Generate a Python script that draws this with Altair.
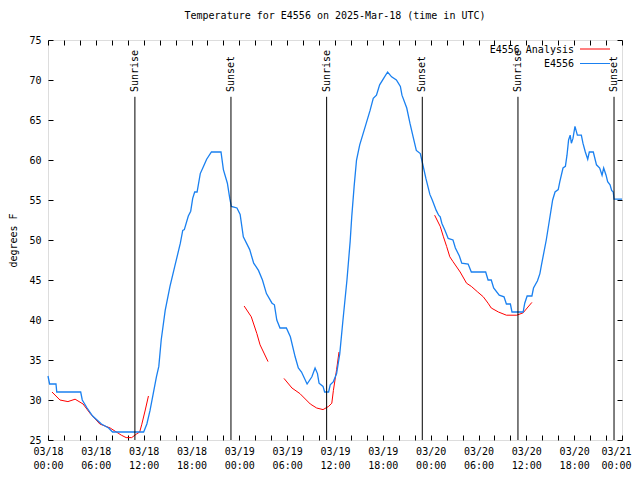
import altair as alt
import pandas as pd

# ---- data (hours since 2025-03-18 00:00 UTC, degrees F) ----
blue_hours = [0.0, 0.2, 1.0, 1.1, 4.1, 4.3, 4.9, 5.6, 6.7, 7.6, 8.1, 12.0, 12.4, 12.8, 13.2,
              13.6, 13.9, 14.2, 14.7, 15.3, 15.9, 16.6, 16.9, 17.1, 17.6, 17.9, 18.15, 18.4,
              18.7, 19.1, 19.5, 19.9, 20.5, 21.7, 22.0, 22.5, 22.8, 23.0, 23.7, 24.1, 24.5,
              25.3, 25.8, 26.4, 26.9, 27.4, 28.1, 28.4, 28.7, 29.1, 29.9, 30.4, 31.0, 31.4,
              31.8, 32.5, 33.1, 33.5, 33.8, 34.0, 34.5, 34.7, 35.2, 35.4, 35.8, 36.2, 36.6,
              37.0, 37.5, 37.9, 38.1, 38.4, 38.7, 39.1, 39.8, 40.4, 40.8, 41.2, 41.6, 42.1,
              42.6, 43.1, 43.7, 44.2, 44.4, 45.0, 45.4, 45.8, 46.2, 46.7, 47.0, 47.4, 47.9,
              48.2, 48.7, 49.0, 49.2, 49.4, 49.8, 50.2, 50.8, 51.1, 51.6, 51.9, 52.7, 53.1,
              54.9, 55.2, 55.6, 55.9, 56.6, 57.2, 57.5, 58.0, 58.2, 59.6, 59.8, 60.1, 60.7,
              60.9, 61.4, 61.7, 61.9, 62.5, 62.9, 63.3, 63.6, 64.0, 64.2, 64.6, 64.9, 65.1,
              65.3, 65.5, 65.65, 65.85, 66.1, 66.4, 66.9, 67.1, 67.4, 67.7, 67.9, 68.4, 68.8,
              69.2, 69.5, 69.7, 70.0, 70.2, 70.5, 70.7, 70.9, 71.0, 72.0]
blue_temps = [33, 32, 32, 31, 31, 30, 29, 28, 27, 26.5, 26, 26, 27, 28.7, 30.8,
              32.9, 34.2, 37.5, 41.2, 44.2, 46.7, 49.6, 51.2, 51.3, 53, 53.6, 55.2, 56,
              56, 58.3, 59.2, 60.1, 61, 61, 58.8, 57.1, 55.2, 54.2, 54, 53.2, 50.4,
              48.8, 47.1, 46.2, 45, 43.3, 42.1, 41.9, 40, 39, 39, 37.9, 35.4, 34,
              33.5, 32, 32.9, 34, 33.3, 32.1, 31.7, 31, 31, 31.9, 32.3, 33.3, 35.8,
              40, 45, 49.8, 52.9, 56.7, 60, 61.9, 64.2, 66.2, 67.7, 68.1, 69.4, 70.2,
              71, 70.4, 70, 69.2, 68.1, 66.5, 64.6, 62.9, 61.2, 60.8, 59.5, 57.7, 55.7,
              55, 53.7, 53.1, 52.9, 52.1, 51.2, 50.2, 50, 49, 48, 47.1, 47, 46,
              46, 45, 45, 44, 43.1, 42.9, 42, 42, 41, 41, 42.1, 43, 43,
              44, 44.9, 45.8, 46.9, 50, 52.5, 55, 56, 56.3, 57.3, 59, 59.2, 60.6,
              62.5, 63.1, 62.1, 62.7, 64.2, 63.1, 63.1, 62.1, 61, 60.1, 61, 61, 59.4,
              59, 58.1, 59, 58.1, 57.3, 56.9, 56.2, 56, 55.1, 55.1]

red_hours = [0.5, 1.5, 2.5, 3.4, 4.4, 5.3, 6.5, 7.8, 9.2, 9.8, 10.5, 11.1, 11.5, 11.75, 12.2, 12.6,
             24.6, 25.5, 26.2, 26.6, 27.6,
             29.6, 30.6, 31.6, 32.9, 33.7, 34.5, 35.2, 35.6, 35.8, 36.2, 36.5,
             48.5, 49.2, 49.6, 50.0, 50.4, 50.8, 51.7, 52.5, 53.1, 53.9, 54.6, 55.2, 55.6,
             56.5, 57.5, 58.8, 59.6, 60.1, 60.7]
red_temps = [31, 30, 29.8, 30.1, 29.5, 28.3, 27, 26.5, 25.6, 25.3, 25.3, 25.75, 26, 26.9, 28.75, 30.5,
             41.75, 40.4, 38.3, 36.9, 34.8,
             32.7, 31.5, 30.8, 29.5, 29.0, 28.8, 29.2, 29.6, 31.2, 33.8, 36,
             53.1, 51.7, 50.4, 49.2, 47.9, 47.3, 46, 44.6, 44.2, 43.5, 42.9, 42.1, 41.5,
             41.0, 40.6, 40.6, 40.9, 41.5, 42.2]
red_segment = [1] * 16 + [2] * 5 + [3] * 11 + [4] * 19

sun_hours = [10.9, 22.95, 34.95, 46.95, 58.95, 71.0]
sun_labels = ["Sunrise", "Sunset", "Sunrise", "Sunset", "Sunrise", "Sunset"]

legend_names = ["E4556 Analysis", "E4556"]
legend_colors = ["#ff0000", "#1a80f0"]

x_tick_values = list(range(0, 73, 2))
y_tick_values = list(range(25, 76, 5))

FONT = "DejaVu Sans Mono"

blue_df = pd.DataFrame({"hour": blue_hours, "temp": blue_temps})
red_df = pd.DataFrame({"hour": red_hours, "temp": red_temps, "seg": red_segment})
sun_df = pd.DataFrame({"hour": sun_hours, "label": sun_labels})

x_scale = alt.Scale(domain=[0, 72], nice=False, zero=False)
y_scale = alt.Scale(domain=[25, 75], nice=False, zero=False)

label_expr = ("datum.value % 6 == 0 ? ['03/' + (18 + floor(datum.value / 24)), "
              "((datum.value % 24) < 10 ? '0' : '') + (datum.value % 24) + ':00'] : ''")

axis_common = dict(tickSize=5, offset=-5, domain=False, grid=False, tickColor="black",
                   labelFont=FONT, labelFontSize=10, labelColor="black")

x_bottom = alt.Axis(orient="bottom", values=x_tick_values, labelExpr=label_expr,
                    labelPadding=6, labelFlush=False, labelOverlap=False, labelAngle=0,
                    labelLineHeight=14, title=None,
                    labelOffset={"condition": {"test": "datum.value == 72", "value": -6},
                                 "value": 0},
                    **axis_common)
x_top = alt.Axis(orient="top", values=x_tick_values, labels=False, title=None, **axis_common)
y_left = alt.Axis(orient="left", values=y_tick_values, labelPadding=7, title="degrees F",
                  titleFont=FONT, titleFontSize=10, titleFontWeight="normal",
                  titleColor="black", titlePadding=10, **axis_common)
y_right = alt.Axis(orient="right", values=y_tick_values, labels=False, title=None, **axis_common)

red = alt.Chart(red_df).mark_line(color="#ff0000", strokeWidth=1).encode(
    x=alt.X("hour:Q", scale=x_scale, axis=x_bottom),
    y=alt.Y("temp:Q", scale=y_scale, axis=y_left),
    detail="seg:N",
)

blue = alt.Chart(blue_df).mark_line(color="#1a80f0", strokeWidth=1.3).encode(
    x=alt.X("hour:Q", scale=x_scale, axis=x_top),
    y=alt.Y("temp:Q", scale=y_scale, axis=y_right),
)

sun_rules = alt.Chart(sun_df).mark_rule(color="black", strokeWidth=1).encode(
    x=alt.X("hour:Q", scale=x_scale, axis=None),
    y=alt.YDatum(67.9, scale=y_scale, axis=None),
    y2=alt.Y2Datum(25),
)

sun_text = alt.Chart(sun_df).mark_text(
    angle=270, align="left", baseline="middle", font=FONT, fontSize=10, color="black"
).encode(
    x=alt.X("hour:Q", scale=x_scale, axis=None),
    y=alt.YDatum(68.5, scale=y_scale, axis=None),
    text="label:N",
)

legend_layers = []
for i, (name, col) in enumerate(zip(legend_names, legend_colors)):
    yy = 9.5 + 14.5 * i
    legend_layers.append(
        alt.Chart(pd.DataFrame({"name": [name]})).mark_text(
            align="right", baseline="middle", font=FONT, fontSize=10, color="black"
        ).encode(x=alt.value(526), y=alt.value(yy), text="name:N")
    )
    legend_layers.append(
        alt.Chart(pd.DataFrame({"name": [name]})).mark_rule(color=col, strokeWidth=1).encode(
            x=alt.value(532), x2=alt.value(562), y=alt.value(yy - 0.5)
        )
    )

chart = alt.layer(red, blue, sun_rules, sun_text, *legend_layers).resolve_axis(
    x="independent", y="independent"
).properties(
    width=574,
    height=400,
    autosize=alt.AutoSizeParams(type="none"),
    padding={"left": 40, "top": 32, "right": 10, "bottom": 32},
    title=alt.TitleParams(
        "Temperature for E4556 on 2025-Mar-18 (time in UTC)",
        font=FONT, fontSize=10, fontWeight="normal", color="black",
        anchor="middle", offset=14, frame="group",
    ),
).configure_view(stroke="black", strokeWidth=1).configure(background="white")

chart.save("out.html", embed_options={"renderer": "svg", "actions": False})
